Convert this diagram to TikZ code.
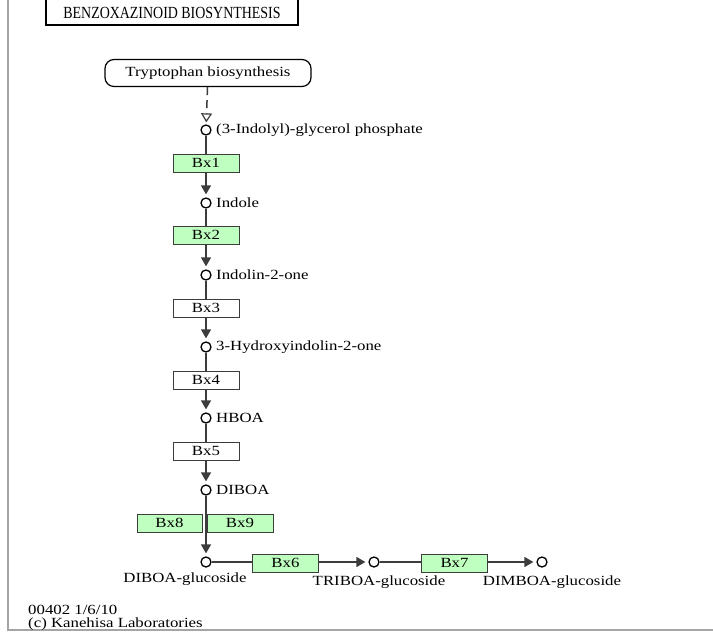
\documentclass[tikz,border=0pt]{standalone}
\usepackage{fontspec}
\setmainfont{Liberation Serif}[FakeStretch=1.2]
\newfontfamily\titlefont{Liberation Serif}[FakeStretch=0.82]
\usetikzlibrary{arrows.meta}
\definecolor{kgreen}{RGB}{191,255,191}
\definecolor{kedge}{RGB}{60,60,60}
\definecolor{kframe}{RGB}{165,165,165}
\tikzset{
  txt/.style={font=\fontsize{14}{16}\selectfont, text=black},
  met/.style={circle, draw=black, fill=white, line width=1.3pt, minimum size=10pt, inner sep=0pt},
  enz/.style={draw=kedge, line width=1pt, minimum width=66pt, minimum height=18pt, inner sep=0pt, txt},
  genz/.style={enz, fill=kgreen},
  wenz/.style={enz, fill=white},
  lbl/.style={anchor=west, inner sep=0pt, txt},
  blbl/.style={anchor=center, inner sep=0pt, txt},
  link/.style={draw=kedge, line width=1.5pt},
  arr/.style={link, -{Triangle[length=9pt,width=10pt]}, shorten >=3pt},
}
\begin{document}
\begin{tikzpicture}[x=1pt,y=-1pt]
\useasboundingbox (0,0) rectangle (713,632);
\fill[white] (0,0) rectangle (713,632);
% frame
\draw[kframe, line width=2pt] (8,-2) -- (8,630) -- (715,630);
% title
\node[draw=black, line width=2pt, minimum width=252pt, minimum height=34pt, inner sep=0pt] (title) at (172,8) {};
\node[inner sep=0pt, font=\titlefont\fontsize{17}{19}\selectfont, text=black] (titletext) at (172,12.5) {BENZOXAZINOID BIOSYNTHESIS};
% map link
\node[draw=black, line width=1.2pt, rounded corners=9pt, minimum width=206pt, minimum height=27pt, inner sep=0pt, txt] (trp) at (208,73) {Tryptophan biosynthesis};
% compounds
\node[met] (c1) at (206,130) {};
\node[met] (c2) at (206,203) {};
\node[met] (c3) at (206,275) {};
\node[met] (c4) at (206,347) {};
\node[met] (c5) at (206,418) {};
\node[met] (c6) at (206,490) {};
\node[met] (c7) at (206,562) {};
\node[met] (c8) at (374,562) {};
\node[met] (c9) at (542,562) {};
% connectors
\draw[link, dash pattern=on 8pt off 5pt, -{Triangle[open,length=9pt,width=11pt,line width=1.2pt]}, shorten >=2pt] (trp) -- (c1);
\draw[arr] (c1) -- (c2);
\draw[arr] (c2) -- (c3);
\draw[arr] (c3) -- (c4);
\draw[arr] (c4) -- (c5);
\draw[arr] (c5) -- (c6);
\draw[arr] (c6) -- (c7);
\draw[arr] (c7) -- (c8);
\draw[arr] (c8) -- (c9);
% enzymes
\node[genz] (bx1) at (206,163) {Bx1};
\node[genz] (bx2) at (206,235) {Bx2};
\node[wenz] (bx3) at (206,308) {Bx3};
\node[wenz] (bx4) at (206,380) {Bx4};
\node[wenz] (bx5) at (206,451) {Bx5};
\node[genz, minimum width=65pt] (bx8) at (169.5,523) {Bx8};
\node[genz] (bx9) at (240,523) {Bx9};
\node[genz] (bx6) at (285.5,563) {Bx6};
\node[genz] (bx7) at (454.5,563) {Bx7};
% compound labels
\node[lbl] (l1) at (216,130) {(3-Indolyl)-glycerol phosphate};
\node[lbl] (l2) at (216,203) {Indole};
\node[lbl] (l3) at (216,275) {Indolin-2-one};
\node[lbl] (l4) at (216,347) {3-Hydroxyindolin-2-one};
\node[lbl] (l5) at (216,418) {HBOA};
\node[lbl] (l6) at (216,490) {DIBOA};
\node[blbl] (l7) at (185,579) {DIBOA-glucoside};
\node[blbl] (l8) at (379,582) {TRIBOA-glucoside};
\node[blbl] (l9) at (552,582) {DIMBOA-glucoside};
% footer
\node[anchor=north west, inner sep=0pt, align=left, font=\fontsize{14}{12.5}\selectfont, text=black] (foot) at (28,605) {00402 1/6/10\\(c) Kanehisa Laboratories};
\end{tikzpicture}
\end{document}
